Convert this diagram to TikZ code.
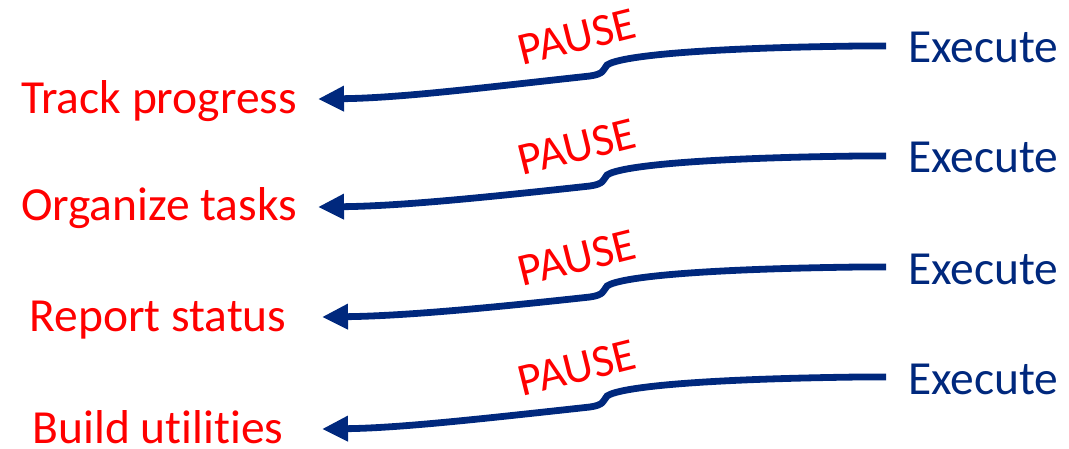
\documentclass[tikz,border=0pt]{standalone}
\usepackage{fontspec}
\setmainfont{Carlito}[Ligatures=CommonOff]
\usetikzlibrary{arrows.meta}
\definecolor{navy}{RGB}{0,40,125}
\definecolor{alert}{RGB}{255,0,0}
\tikzset{
  task/.style={text=alert, font=\fontsize{47.5}{52}\selectfont, inner sep=0pt, anchor=base},
  exec/.style={text=navy, font=\fontsize{47.5}{52}\selectfont, inner sep=0pt, anchor=base west},
  pausetxt/.style={text=alert, font=\fontsize{46}{50}\selectfont, inner sep=0pt, rotate=14},
  flow/.style={draw=navy, line width=6.8pt, -{Triangle[length=26pt,width=24pt]}},
}
\begin{document}
\begin{tikzpicture}[x=1pt,y=-1pt]
  \useasboundingbox (0,0) rectangle (1069,449);
  % \S: height of the arrow's right end, \B: baseline of the task, \T: height of the tip
  \foreach \i/\S/\B/\T/\lab/\cx/\tx in {1/46/114/99/Track progress/159/318,
                                        2/156/221/207/Organize tasks/159/318,
                                        3/267/331/317/Report status/158/322,
                                        4/377/443/429/Build utilities/158/322}{
    \node[exec] (e\i) at (908,\S+17) {Execute};
    \node[task] (l\i) at (\cx,\B) {\lab};
    \node[pausetxt] (p\i) at (577,\S-9) {PAUSE};
    \coordinate (s\i) at (886,\S);
    \coordinate (t\i) at (\tx,\T);
    \draw[flow] (s\i) -- (860,\S)
      .. controls (700,\S+2) and (620,\S+10) .. (607,\S+19)
      .. controls (603,\S+24) and (604,\S+28) .. (590,\S+30)
      .. controls (480,\S+42) and (400,\T-1) .. (t\i);
  }
\end{tikzpicture}
\end{document}
